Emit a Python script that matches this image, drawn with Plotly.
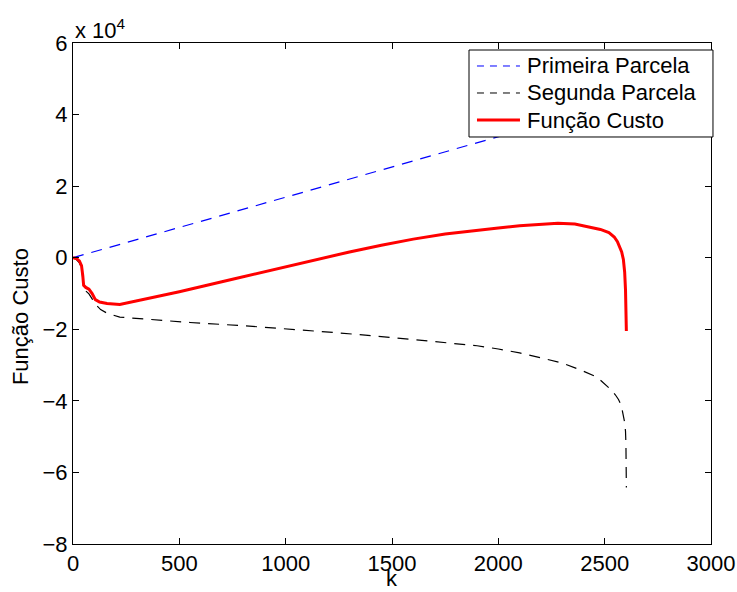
import plotly.graph_objects as go

# Iteration index k and the two cost terms (values in absolute units)
k_primeira = [0, 2602]
primeira = [0, 44000]

k_segunda = [0, 15, 30, 40, 46, 50, 60, 75, 90, 105, 130, 160, 220, 300, 400,
             550, 800, 1000, 1250, 1500, 1700, 1900, 2000, 2100, 2200, 2300,
             2400, 2450, 2480, 2510, 2530, 2550, 2565, 2578, 2588, 2594, 2598,
             2600, 2602]
segunda = [0, -450, -1400, -2900, -5800, -8550, -9300, -10100, -11500, -13000,
           -14500, -15500, -16600, -17000, -17300, -18100, -19000, -19800,
           -21000, -22300, -23400, -24600, -25500, -26600, -28000, -29400,
           -31700, -33000, -34200, -35700, -36900, -38300, -39600, -41200,
           -43800, -46000, -48500, -52000, -64200]

k_custo = [0, 15, 30, 40, 46, 50, 60, 75, 90, 105, 125, 160, 220, 350, 500, 750,
           1000, 1150, 1300, 1450, 1600, 1750, 1900, 2000, 2100, 2200, 2280,
           2360, 2440, 2480, 2520, 2545, 2560, 2572, 2580, 2588, 2594, 2598,
           2600, 2602]
custo = [0, -200, -900, -2200, -5000, -7700, -8300, -8800, -10000, -11700,
         -12400, -12800, -13100, -11400, -9500, -6000, -2500, -400, 1600, 3500,
         5200, 6600, 7700, 8300, 8900, 9350, 9600, 9400, 8500, 7900, 7000, 5800,
         4500, 3000, 1600, -500, -4000, -9000, -14000, -20500]

x_ticks = [0, 500, 1000, 1500, 2000, 2500, 3000]
y_ticks = [-80000, -60000, -40000, -20000, 0, 20000, 40000, 60000]
y_tick_text = ["\u22128", "\u22126", "\u22124", "\u22122", "0", "2", "4", "6"]

FONT = "Liberation Sans, Arial, Helvetica, sans-serif"
FS = 22

series = [
    ("Primeira Parcela", k_primeira, primeira,
     dict(color="#0000ff", width=1.2, dash="11px,8px")),
    ("Segunda Parcela", k_segunda, segunda,
     dict(color="#000000", width=1.2, dash="11px,8px")),
    ("Função Custo", k_custo, custo,
     dict(color="#ff0000", width=3)),
]

fig = go.Figure()
for name, xs, ys, line in series:
    fig.add_trace(go.Scatter(x=xs, y=ys, mode="lines", name=name, line=line,
                             showlegend=False))

# Boxed legend in the upper-right corner (paper coordinates)
box_x0, box_x1, box_y0, box_y1 = 0.6207, 1.0031, 0.8124, 0.986
sample_x0, sample_x1, text_x = 0.6332, 0.7006, 0.7085
row_y = [0.9541, 0.9002, 0.8463]
legend_dash = {"Primeira Parcela": "7px,6px", "Segunda Parcela": "7px,6px"}

shapes = [dict(type="rect", xref="paper", yref="paper", layer="above",
               x0=box_x0, x1=box_x1, y0=box_y0, y1=box_y1,
               fillcolor="white", line=dict(color="#000000", width=1))]
annotations = []
for (name, _, _, line), ry in zip(series, row_y):
    shapes.append(dict(type="line", xref="paper", yref="paper", layer="above",
                       x0=sample_x0, x1=sample_x1, y0=ry, y1=ry,
                       line=dict(color=line["color"],
                                 width=1 if name in legend_dash else 3,
                                 dash=legend_dash.get(name, "solid"))))
    annotations.append(dict(text=name, xref="paper", yref="paper",
                            x=text_x, y=ry, xanchor="left", yanchor="middle",
                            showarrow=False,
                            font=dict(family=FONT, size=FS, color="#000000")))

annotations += [
    dict(text="x 10<sup>4</sup>", xref="paper", yref="paper",
         x=0.0, y=1.0, xanchor="left", yanchor="bottom",
         showarrow=False, yshift=-2,
         font=dict(family=FONT, size=FS, color="#000000")),
    dict(text="Função Custo", xref="paper", yref="paper",
         x=-0.083, y=0.453, xanchor="center", yanchor="middle",
         textangle=-90, showarrow=False,
         font=dict(family=FONT, size=FS, color="#000000")),
    dict(text="k", xref="paper", yref="paper",
         x=0.5, y=-0.0958, xanchor="center", yanchor="bottom",
         showarrow=False, borderpad=0,
         font=dict(family=FONT, size=FS, color="#000000")),
]

axis_common = dict(
    showgrid=False, zeroline=False, showline=True, linecolor="#000000",
    linewidth=1, mirror="ticks", ticks="inside", ticklen=6, tickwidth=1,
    tickcolor="#000000", automargin=False,
    tickfont=dict(family=FONT, size=FS, color="#000000"),
)

fig.update_layout(
    width=737, height=592,
    margin=dict(l=73, r=26, t=43, b=48),
    paper_bgcolor="white", plot_bgcolor="white",
    font=dict(family=FONT, size=FS, color="#000000"),
    showlegend=False,
    xaxis=dict(range=[0, 3000], tickvals=x_ticks, **axis_common),
    yaxis=dict(range=[-80000, 60000], tickvals=y_ticks, ticktext=y_tick_text,
               **axis_common),
    shapes=shapes,
    annotations=annotations,
)

fig.write_html("out.html")
